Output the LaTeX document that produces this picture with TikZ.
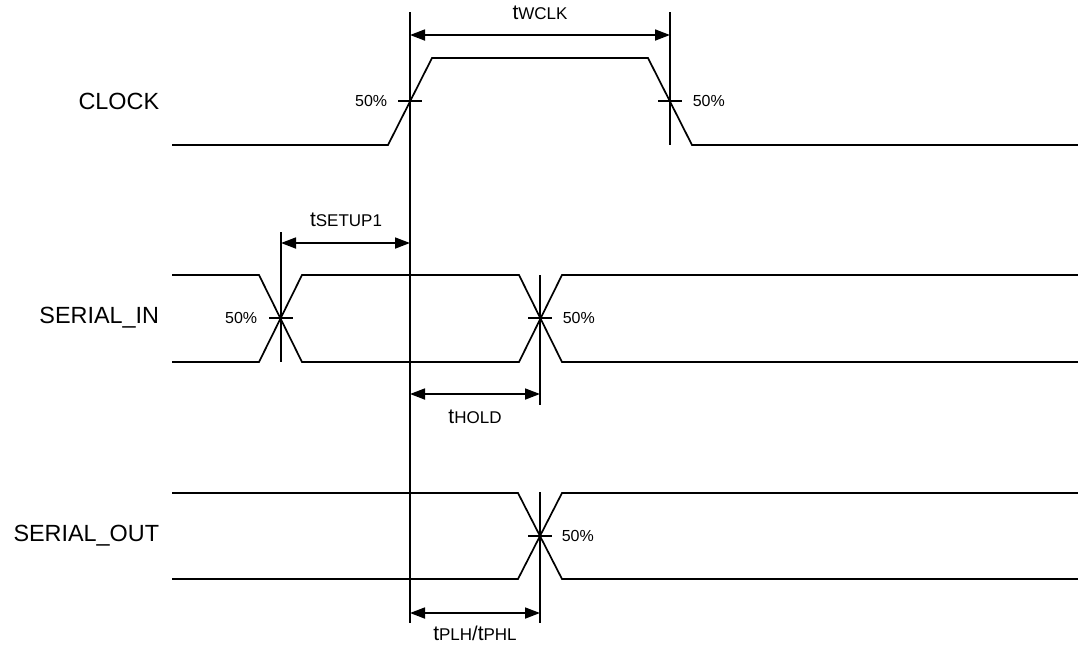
\documentclass[tikz,border=0pt]{standalone}
\usepackage{fontspec}
\setmainfont{Liberation Sans}
\usetikzlibrary{arrows.meta}
\begin{document}
\begin{tikzpicture}[x=0.5pt,y=-0.5pt,line width=0.85pt,line join=miter,
  dimline/.style={{Triangle[length=7.5pt,width=5.5pt]}-{Triangle[length=7.5pt,width=5.5pt]}},
  siglabel/.style={font=\fontsize{11.7}{12}\selectfont,inner sep=0pt,anchor=east},
  pct/.style={font=\fontsize{8}{8}\selectfont,inner sep=0pt},
  tlabel/.style={inner sep=0pt,anchor=base}]
\useasboundingbox (0,0) rectangle (1078,645);
\newcommand{\tname}[2]{{\fontsize{10.5}{10.5}\selectfont #1}{\fontsize{8.5}{8.5}\selectfont #2}}

% signal names
\node[siglabel] (clk) at (160,101) {CLOCK};
\node[siglabel] (sin) at (160,318) {SERIAL\_IN};
\node[siglabel] (sout) at (160,536) {SERIAL\_OUT};

% CLOCK waveform
\draw (172,145) -- (388,145) -- (432,58) -- (648,58) -- (692,145) -- (1078,145);

% SERIAL_IN waveform
\draw (172,275) -- (259,275) -- (302,362) -- (519,362) -- (562,275) -- (1078,275);
\draw (172,362) -- (259,362) -- (302,275) -- (519,275) -- (562,362) -- (1078,362);

% SERIAL_OUT waveform
\draw (172,493) -- (518,493) -- (562,579) -- (1078,579);
\draw (172,579) -- (518,579) -- (562,493) -- (1078,493);

% reference coordinates
\coordinate (c1top) at (410,12);
\coordinate (c1bot) at (410,623);
\coordinate (c2top) at (670,12);
\coordinate (c2bot) at (670,145);
\coordinate (s1top) at (281,232);
\coordinate (s1bot) at (281,362);
\coordinate (s2top) at (540,275);
\coordinate (s2bot) at (540,405);
\coordinate (o1top) at (540,492);
\coordinate (o1bot) at (540,623);

% vertical reference lines
\draw (c1top) -- (c1bot);
\draw (c2top) -- (c2bot);
\draw (s1top) -- (s1bot);
\draw (s2top) -- (s2bot);
\draw (o1top) -- (o1bot);

% 50% ticks
\draw (398,101) -- (422,101);
\draw (658,101) -- (682,101);
\draw (269,318) -- (293,318);
\draw (528,318) -- (552,318);
\draw (528,536) -- (552,536);

\node[pct,anchor=east] (p1) at (388,101) {50\%};
\node[pct,anchor=west] (p2) at (692,101) {50\%};
\node[pct,anchor=east] (p3) at (258,318) {50\%};
\node[pct,anchor=west] (p4) at (562,318) {50\%};
\node[pct,anchor=west] (p5) at (561,536) {50\%};

% dimension arrows
\coordinate (wa) at (410,35);
\coordinate (wb) at (670,35);
\draw[dimline] (wa) -- (wb);
\node[tlabel] (twclk) at (540,19) {\tname{t}{WCLK}};

\coordinate (sa) at (281,243);
\coordinate (sb) at (410,243);
\draw[dimline] (sa) -- (sb);
\node[tlabel] (tsetup) at (346,226) {\tname{t}{SETUP1}};

\coordinate (ha) at (410,394);
\coordinate (hb) at (540,394);
\draw[dimline] (ha) -- (hb);
\node[tlabel] (thold) at (475,423) {\tname{t}{HOLD}};

\coordinate (pa) at (410,613);
\coordinate (pb) at (540,613);
\draw[dimline] (pa) -- (pb);
\node[tlabel] (tplh) at (475,640) {\tname{t}{PLH}/\tname{t}{PHL}};
\end{tikzpicture}
\end{document}
